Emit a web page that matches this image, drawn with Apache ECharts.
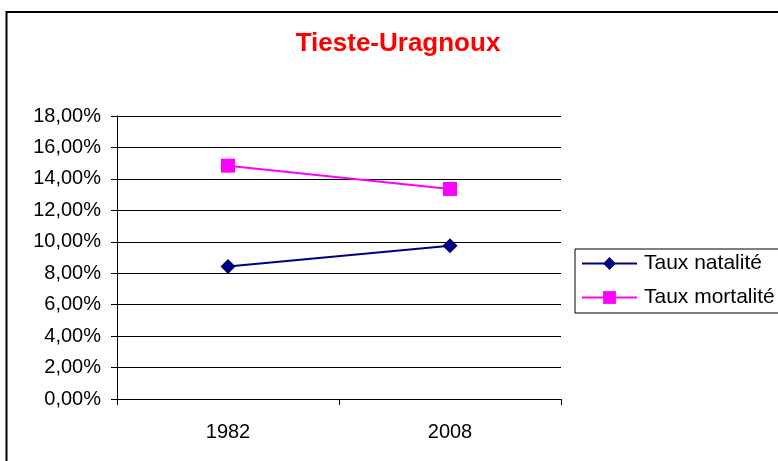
<!DOCTYPE html>
<html>
<head>
<meta charset="utf-8">
<script src="https://cdn.jsdelivr.net/npm/echarts@6/dist/echarts.min.js"></script>
<style>
html,body{margin:0;padding:0;background:#fff;}
#chart{width:778px;height:461px;}
</style>
</head>
<body>
<div id="chart"></div>
<script>
const titleText = "Tieste-Uragnoux";
const categories = ["1982", "2008"];
const seriesNames = ["Taux natalité", "Taux mortalité"];
const natalite = [8.42, 9.75];
const mortalite = [14.84, 13.36];
const yMin = 0, yMax = 18, yStep = 2;

const fmt = v => v.toFixed(2).replace('.', ',') + '%';
const chart = echarts.init(document.getElementById('chart'), null, {renderer: 'canvas'});
const font = 'Liberation Sans, Arial, sans-serif';
chart.setOption({
  animation: false,
  backgroundColor: '#ffffff',
  graphic: [{
    type: 'rect', silent: true, z: -1,
    shape: {x: 6.5, y: 12, width: 800, height: 500},
    style: {fill: 'none', stroke: '#000', lineWidth: 2}
  }],
  title: {
    text: titleText, left: 398, top: 31, textAlign: 'center', padding: 0,
    textStyle: {color: '#ff0000', fontSize: 26, fontWeight: 'bold', fontFamily: font}
  },
  legend: {
    orient: 'vertical', left: 575, top: 249,
    padding: [4, 40, 5, 6],
    itemWidth: 55, itemHeight: 16, itemGap: 13,
    borderColor: '#000', borderWidth: 1,
    textStyle: {fontSize: 21, color: '#000', fontFamily: font, padding: [0, 0, 0, 2]},
    data: seriesNames
  },
  grid: {left: 117, right: 217, top: 116, bottom: 62, containLabel: false},
  xAxis: {
    type: 'category', data: categories, boundaryGap: true,
    axisLine: {lineStyle: {color: '#000', width: 1}},
    axisTick: {show: true, length: 6, lineStyle: {color: '#000'}},
    axisLabel: {color: '#000', fontSize: 20, fontFamily: font, margin: 23},
    splitLine: {show: false}
  },
  yAxis: {
    type: 'value', min: yMin, max: yMax, interval: yStep,
    axisLine: {show: true, lineStyle: {color: '#000', width: 1}},
    axisTick: {show: true, length: 6, lineStyle: {color: '#000'}},
    axisLabel: {color: '#000', fontSize: 20, fontFamily: font, margin: 16, formatter: fmt},
    splitLine: {show: true, lineStyle: {color: '#000', width: 1}}
  },
  series: [
    {
      name: seriesNames[0], type: 'line', data: natalite,
      symbol: 'diamond', symbolSize: 15,
      lineStyle: {color: '#000080', width: 2},
      itemStyle: {color: '#000080'}
    },
    {
      name: seriesNames[1], type: 'line', data: mortalite,
      symbol: 'rect', symbolSize: 14,
      lineStyle: {color: '#ff00ff', width: 2},
      itemStyle: {color: '#ff00ff'}
    }
  ]
});
</script>
</body>
</html>
